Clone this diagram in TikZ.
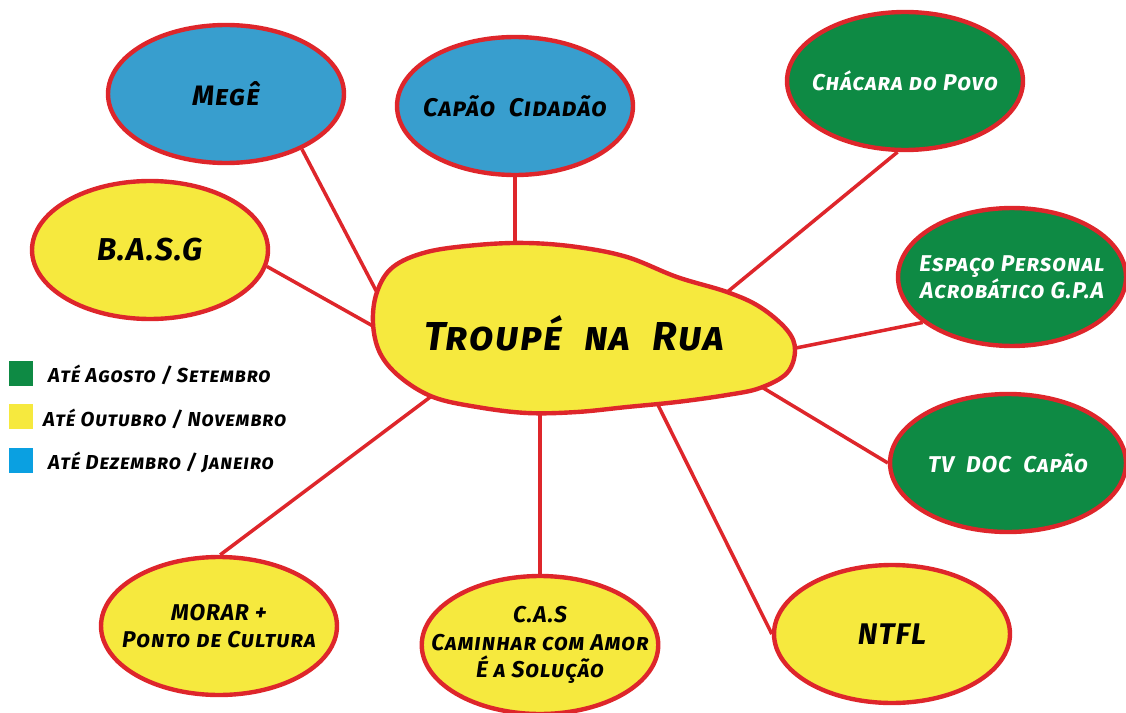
\documentclass[tikz,border=0pt]{standalone}
\usepackage{fontspec}
\setmainfont{Fira Sans}
\usepackage{tikz}
\usepackage{xcolor}
\usetikzlibrary{shapes.geometric}

\definecolor{bred}{RGB}{222,38,43}
\definecolor{bgreen}{RGB}{14,138,68}
\definecolor{bblue}{RGB}{56,158,206}
\definecolor{byellow}{RGB}{246,233,62}
\definecolor{lblue}{RGB}{10,160,225}

\newcommand{\comic}[1]{\fontsize{#1}{1.2\dimexpr #1pt\relax}\selectfont\bfseries\itshape\scshape\addfontfeature{LetterSpace=4}}

\tikzset{
  bubble/.style={ellipse, draw=bred, line width=2.5pt, minimum width=4.72cm,
    minimum height=2.76cm, inner xsep=-5mm, inner ysep=-3mm, align=center,
    font=\comic{13}},
  link/.style={draw=bred, line width=2pt},
  legbox/.style={minimum size=0.5cm, inner sep=0pt},
  legtext/.style={anchor=west, font=\comic{11.5}}
}

\begin{document}
\begin{tikzpicture}[x=0.02cm, y=-0.02cm]
        \useasboundingbox (0,0) rectangle (1126,713);
        % Ends of the links inside the blob
        \coordinate (tMege) at (382,302);
        \coordinate (tCapao) at (515,252);
        \coordinate (tChacara) at (720,298);
        \coordinate (tEspaco) at (786,350);
        \coordinate (tTv) at (760,386);
        \coordinate (tNtfl) at (654,397);
        \coordinate (tCas) at (540,405);
        \coordinate (tMorar) at (437,392);
        \coordinate (tBasg) at (380,330);
        % Blue bubbles
        \node[bubble, fill=bblue, font=\comic{16}] (mege) at (226,94) {Megê};
        \node[bubble, fill=bblue, font=\comic{14.5}] (capao) at (515,106) {Capão\ \ Cidadão};
        % Green bubbles
        \node[bubble, fill=bgreen, text=white] (chacara) at (905,81) {Chácara do Povo};
        \node[bubble, fill=bgreen, text=white, minimum width=4.56cm] (espaco) at (1012,277) {Espaço Personal\\Acrobático G.P.A};
        \node[bubble, fill=bgreen, text=white] (tvdoc) at (1008,463) {TV\ \ DOC\ \ Capão};
        % Yellow bubbles
        \node[bubble, fill=byellow, font=\comic{18}] (basg) at (150,250) {B.A.S.G};
        \node[bubble, fill=byellow] (morar) at (219,626) {MORAR +\\Ponto de Cultura};
        \node[bubble, fill=byellow] (cas) at (540,645) {C.A.S\\Caminhar com Amor\\É a Solução};
        \node[bubble, fill=byellow, font=\comic{17}] (ntfl) at (892,634) {NTFL};
        % Links
        \draw[link] (mege.324) -- (tMege);
        \draw[link] (capao.270) -- (tCapao);
        \draw[link] (chacara.264) -- (tChacara);
        \draw[link] (espaco.207) -- (tEspaco);
        \draw[link] (tvdoc.180) -- (tTv);
        \draw[link] (ntfl.180) -- (tNtfl);
        \draw[link] (cas.90) -- (tCas);
        \draw[link] (morar.89) -- (tMorar);
        \draw[link] (basg.352) -- (tBasg);
        % Centre blob
        \draw[draw=bred, line width=2.5pt, fill=byellow] plot[smooth cycle, tension=0.6] coordinates {
          (377,292) (393,267) (427,252) (477,245) (527,243) (577,247) (627,257)
          (677,277) (727,292) (760,307) (787,330) (795,350) (787,373) (760,388)
          (727,395) (677,402) (627,407) (577,412) (527,413) (477,407) (433,397)
          (400,377) (380,353) (373,323)};
        \node[font=\comic{23}] (troupe) at (574,333) {Troupé\ \ na\ \ Rua};
        % Legend
        \node[legbox, fill=bgreen] (legA) at (21,373) {};
        \node[legbox, fill=byellow] (legB) at (21,416) {};
        \node[legbox, fill=lblue] (legC) at (21,460) {};
        \node[legtext] (txtA) at (42,375) {Até Agosto / Setembro};
        \node[legtext] (txtB) at (37,419) {Até Outubro / Novembro};
        \node[legtext] (txtC) at (42,462) {Até Dezembro / Janeiro};
    \end{tikzpicture}
\end{document}
